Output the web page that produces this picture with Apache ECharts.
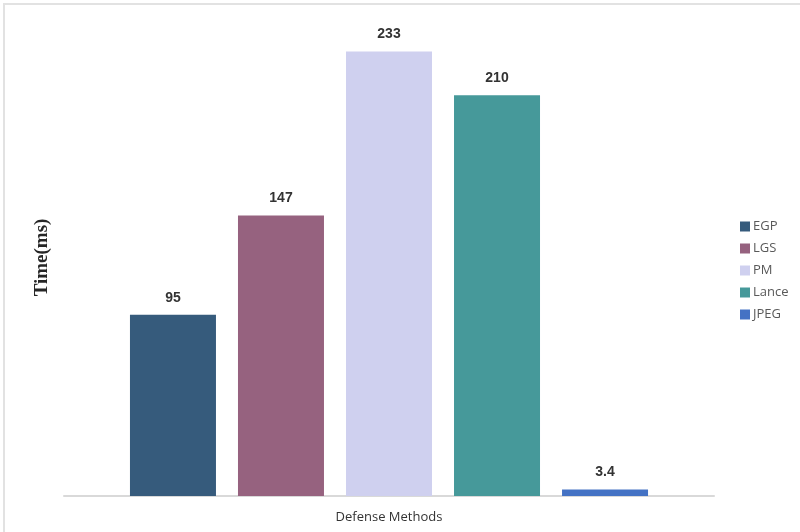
<!DOCTYPE html>
<html>
<head>
<meta charset="utf-8">
<script src="https://cdn.jsdelivr.net/npm/echarts@6/dist/echarts.min.js"></script>
<style>
  html, body { margin: 0; padding: 0; background: #fff; }
  #chart { width: 800px; height: 532px; }
</style>
</head>
<body>
<div id="chart"></div>
<script>
// Processing time per defense method (ms)
const categories = ['Defense Methods'];
const methods = ['EGP', 'LGS', 'PM', 'Lance', 'JPEG'];
const times = [95, 147, 233, 210, 3.4];
const colors = ['#365b7c', '#96627f', '#cfd0ef', '#46999a', '#4472c4'];

const chart = echarts.init(document.getElementById('chart'));

const series = methods.map((name, i) => ({
  name: name,
  type: 'bar',
  data: [times[i]],
  barWidth: 86,
  barGap: '25.6%',
  itemStyle: { color: colors[i] },
  label: {
    show: true,
    position: 'top',
    distance: 10,
    fontFamily: 'Liberation Sans',
    fontSize: 14,
    fontWeight: 'bold',
    color: '#333333'
  }
}));

chart.setOption({
  animation: false,
  backgroundColor: '#ffffff',
  graphic: [{
    type: 'rect',
    shape: { x: 4, y: 4, width: 820, height: 560 },
    style: { fill: 'none', stroke: '#e2e2e2', lineWidth: 2 }
  }],
  grid: { left: 64, right: 86, top: 19, bottom: 36 },
  legend: {
    orient: 'vertical',
    left: 735,
    top: 215,
    itemWidth: 10,
    itemHeight: 10,
    itemGap: 9,
    icon: 'rect',
    textStyle: { fontFamily: 'Open Sans', fontSize: 13, color: '#595959', padding: [0, 0, 0, -2] },
    data: methods
  },
  xAxis: {
    type: 'category',
    data: categories,
    axisLine: { lineStyle: { color: '#d9d9d9', width: 2 } },
    axisTick: { show: false },
    axisLabel: {
      margin: 15,
      fontFamily: 'Open Sans',
      fontSize: 13,
      color: '#333333'
    }
  },
  yAxis: {
    type: 'value',
    min: 0,
    max: 250,
    show: true,
    axisLine: { show: false },
    axisTick: { show: false },
    axisLabel: { show: false },
    splitLine: { show: false },
    name: 'Time(ms)',
    nameLocation: 'middle',
    nameGap: 12,
    nameTextStyle: {
      fontFamily: 'Liberation Serif',
      fontSize: 19,
      fontWeight: 'bold',
      color: '#262626'
    }
  },
  series: series
});
</script>
</body>
</html>
